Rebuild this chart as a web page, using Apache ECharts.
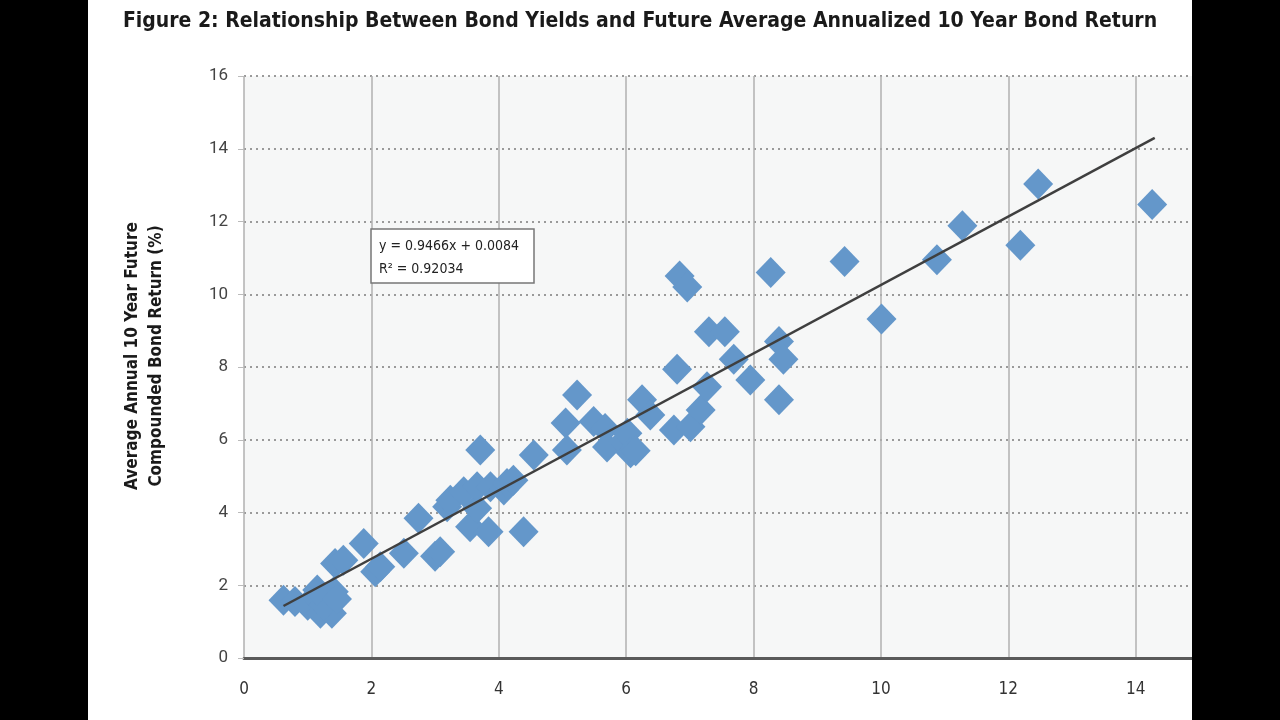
<!DOCTYPE html>
<html>
<head>
<meta charset="utf-8">
<script src="https://cdn.jsdelivr.net/npm/echarts@6/dist/echarts.min.js"></script>
<style>
html,body{margin:0;padding:0;background:#000;}
#chart{width:1280px;height:720px;}
</style>
</head>
<body>
<div id="chart"></div>
<script>
// Bond yield (%) at start of period
const yieldPct = [0.62,0.80,1.00,1.12,1.20,1.38,1.25,1.41,1.15,1.46,1.43,1.56,
  1.88,2.06,2.14,2.51,2.74,3.00,3.08,3.19,3.24,3.45,3.55,3.66,3.71,3.66,3.84,3.87,4.08,4.13,4.23,4.39,4.55,
  5.05,5.07,5.23,5.49,5.67,5.70,5.96,6.02,6.07,6.15,6.25,6.38,6.75,6.80,6.84,6.96,7.01,7.17,7.27,7.30,7.55,
  7.69,7.95,8.27,8.40,8.47,8.40,9.43,10.01,10.88,11.28,12.19,12.47,14.26];
// Average annual 10-year future compounded bond return (%)
const returnPct = [1.59,1.55,1.45,1.70,1.23,1.23,1.45,1.82,1.87,1.62,2.60,2.69,
  3.15,2.37,2.51,2.88,3.84,2.80,2.92,4.16,4.34,4.57,3.61,4.12,5.72,4.71,3.47,4.71,4.62,4.80,4.89,3.47,5.58,
  6.46,5.72,7.23,6.50,6.31,5.80,5.95,6.18,5.64,5.70,7.10,6.68,6.27,7.94,10.50,10.20,6.36,6.82,7.46,8.97,8.97,
  8.21,7.64,10.60,8.70,8.21,7.10,10.90,9.32,10.95,11.88,11.35,13.03,12.47];
// Linear trend line end points
const trendX = [0.62, 14.30];
const trendY = [1.43, 14.30];
const xTicks = [0,2,4,6,8,10,12,14,16];
const yTicks = [0,2,4,6,8,10,12,14,16];

const titleText = 'Figure 2: Relationship Between Bond Yields and Future Average Annualized 10 Year Bond Return';
const yTitle1 = 'Average Annual 10 Year Future';
const yTitle2 = 'Compounded Bond Return (%)';
const eqText1 = 'y = 0.9466x + 0.0084';
const eqText2 = 'R² = 0.92034';

const scatterData = yieldPct.map((x, i) => [x, returnPct[i]]);
const trendData = trendX.map((x, i) => [x, trendY[i]]);

const COND = '"DejaVu Sans Condensed", "DejaVu Sans", sans-serif';

const chart = echarts.init(document.getElementById('chart'));
chart.setOption({
  backgroundColor: '#ffffff',
  animation: false,
  grid: {left: 244, top: 76, bottom: 62, right: 17, show: true, backgroundColor: '#f6f7f7', borderWidth: 0},
  xAxis: {
    type: 'value', min: xTicks[0], max: xTicks[xTicks.length-1], interval: 2,
    axisLine: {show: true, lineStyle: {color: '#5a5a5a', width: 3}},
    axisTick: {show: false},
    axisLabel: {color: '#333', fontFamily: COND, fontSize: 17, margin: 23},
    splitLine: {show: true, lineStyle: {color: '#b0b0b0', width: 1.5, type: 'solid'}}
  },
  yAxis: {
    type: 'value', min: yTicks[0], max: yTicks[yTicks.length-1], interval: 2,
    axisLine: {show: false},
    axisTick: {show: true, length: 6, lineStyle: {color: '#bbbbbb'}},
    axisLabel: {color: '#444', fontFamily: 'Roboto', fontSize: 17, margin: 16},
    splitLine: {show: true, lineStyle: {color: '#9a9a9a', width: 2, type: [2, 4]}}
  },
  series: [
    {
      type: 'scatter', data: scatterData, symbol: 'diamond', symbolSize: [30, 31],
      itemStyle: {color: '#6497ca', opacity: 1}, z: 2
    },
    {
      type: 'line', data: trendData, symbol: 'none', z: 3,
      lineStyle: {color: '#3f3f3f', width: 2.5}
    }
  ],
  graphic: [
    {type: 'text', left: 'center', top: 11, z: 50,
      style: {text: titleText, font: 'bold 21px ' + COND, fill: '#1a1a1a'}},
    {type: 'text', x: 133, y: 356, rotation: Math.PI/2, z: 50,
      style: {text: yTitle1, font: 'bold 17px ' + COND, fill: '#1a1a1a', align: 'center', verticalAlign: 'middle'}},
    {type: 'text', x: 157, y: 356, rotation: Math.PI/2, z: 50,
      style: {text: yTitle2, font: 'bold 17px ' + COND, fill: '#1a1a1a', align: 'center', verticalAlign: 'middle'}},
    {type: 'rect', shape: {x: 371, y: 229, width: 163, height: 54}, z: 50,
      style: {fill: '#ffffff', stroke: '#777777', lineWidth: 1.5}},
    {type: 'text', x: 379, y: 246, z: 51,
      style: {text: eqText1, font: '14px ' + COND, fill: '#222', verticalAlign: 'middle'}},
    {type: 'text', x: 379, y: 269, z: 51,
      style: {text: eqText2, font: '14px ' + COND, fill: '#222', verticalAlign: 'middle'}},
    {type: 'rect', shape: {x: 0, y: 0, width: 88, height: 720}, z: 100, style: {fill: '#000'}},
    {type: 'rect', shape: {x: 1192, y: 0, width: 88, height: 720}, z: 100, style: {fill: '#000'}}
  ]
});
</script>
</body>
</html>
